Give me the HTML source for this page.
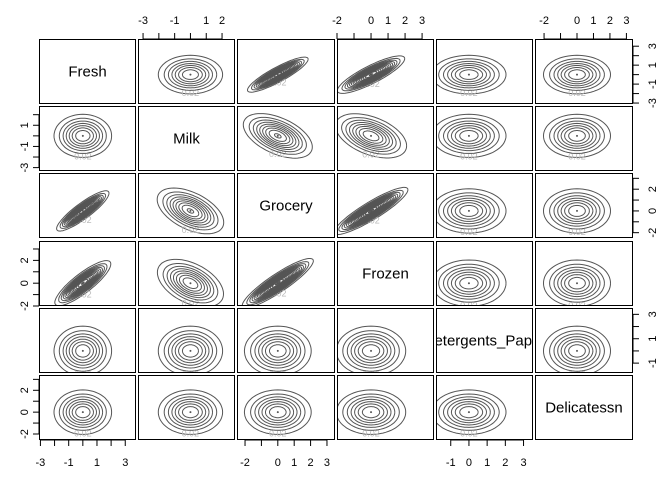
<!DOCTYPE html>
<html><head><meta charset="utf-8"><style>
body{margin:0;background:#fff}
svg{display:block;font-family:"Liberation Sans",Arial,sans-serif}
</style></head><body>
<svg id="c" width="672" height="480" viewBox="0 0 672 480"></svg>
<script>
const varNames=["Fresh","Milk","Grocery","Frozen","Detergents_Paper","Delicatessn"];
const rangeLo=[-3.1,-3.32,-2.49,-2,-1.81,-2.55];
const rangeHi=[3.76,2.82,3.49,3.7,3.52,3.4];
const ticks=[[-3,-2,-1,0,1,2,3],[-3,-2,-1,0,1,2],[-2,-1,0,1,2,3],[-2,-1,0,1,2,3],[-1,0,1,2,3],[-2,-1,0,1,2,3]];
const colLabels=[[-3,-1,1,3],[-3,-1,1,2],[-2,0,1,2,3],[-2,0,1,2,3],[-1,0,1,2,3],[-2,0,1,2,3]];
const rowLabels=[[-3,-1,1,3],[-3,-1,1],[-2,0,2],[-2,0,2],[-1,1,3],[-2,0,2]];
const rho=[
[1,0,0.88,0.85,0,0],
[0,1,-0.5,-0.45,0,0],
[0.88,-0.5,1,0.9,0,0],
[0.85,-0.45,0.9,1,0,0],
[0,0,0,0,1,0],
[0,0,0,0,0,1]];
const pairScale=[
[1,1,0.78,0.85,1,1],
[1,1,1,1,1,1],
[0.78,1,1,0.9,1,1],
[0.85,1,0.9,1,1,1],
[1,1,1,1,1,1],
[1,1,1,1,1,1]];
const levelStep=0.02;
const colX=[39,138,237,337,436,535], colW=[97,97,98,97,97,98];
const rowY=[39,106,173,241,308,375], rowH=65;
const svg=document.getElementById('c');const NS='http://www.w3.org/2000/svg';
function mk(t,a,p){const e=document.createElementNS(NS,t);for(const k in a)e.setAttribute(k,a[k]);(p||svg).appendChild(e);return e;}
function xs(j,v){return colX[j]+(v-rangeLo[j])/(rangeHi[j]-rangeLo[j])*colW[j];}
function ys(i,v){return rowY[i]+rowH-(v-rangeLo[i])/(rangeHi[i]-rangeLo[i])*rowH;}
const defs=mk('defs',{});
for(let i=0;i<6;i++)for(let j=0;j<6;j++){
  const cp=mk('clipPath',{id:'cp'+i+'_'+j},defs);
  mk('rect',{x:colX[j],y:rowY[i],width:colW[j],height:rowH},cp);
}
for(let i=0;i<6;i++)for(let j=0;j<6;j++){
  const g=mk('g',{'clip-path':'url(#cp'+i+'_'+j+')'});
  
  
  if(i===j){
    const t=mk('text',{x:colX[j]+colW[j]/2,y:rowY[i]+rowH/2+5,'text-anchor':'middle','font-size':15,fill:'#000'},g);
    t.textContent=varNames[i];
    
    
  } else {
    const r=rho[i][j], s=Math.sqrt(1-r*r), sc=pairScale[i][j];
    const peak=1/(2*Math.PI*s);
    let n=0;
    for(let L=levelStep;L<peak;L+=levelStep){
      const r2=-2*Math.log(L/peak);const rad=Math.sqrt(r2)*sc;
      let d='';
      for(let k=0;k<=72;k++){const t=k/72*2*Math.PI;
        const xv=rad*Math.cos(t), yv=rad*(r*Math.cos(t)+s*Math.sin(t));
        d+=(k?'L':'M')+xs(j,xv).toFixed(1)+','+ys(i,yv).toFixed(1);}
      const p=mk('path',{d:d,fill:'none',stroke:'#555','stroke-width':1},g);
      
      
      if(n===0){
        const lb=mk('text',{x:xs(j,0),y:ys(i,-rad*s*0.95)+3,'text-anchor':'middle','font-size':9,fill:'#bbb'},g);
        lb.textContent='0.02';
        
        
      }
      n++;
    }
    const dot=mk('circle',{cx:xs(j,0),cy:ys(i,0),r:1,fill:'#555'},g);
    
    
  }
  const b=mk('rect',{x:colX[j]+0.5,y:rowY[i]+0.5,width:colW[j]-1,height:rowH-1,fill:'none',stroke:'#000','stroke-width':1});
  
  
}
for(let j=0;j<6;j++){
  const top=(j%2===1), y0=top?39:440, dir=top?-1:1;
  const g=mk('g',{stroke:'#000','stroke-width':1});
  
  
  const tk=ticks[j];
  mk('line',{x1:xs(j,tk[0]),x2:xs(j,tk[tk.length-1]),y1:y0,y2:y0},g);
  tk.forEach(v=>mk('line',{x1:xs(j,v),x2:xs(j,v),y1:y0,y2:y0+dir*6},g));
  colLabels[j].forEach(v=>{const t=mk('text',{x:xs(j,v),y:top?24:466,'text-anchor':'middle','font-size':11,fill:'#000',stroke:'none'},g);t.textContent=v;
    });
}
for(let i=0;i<6;i++){
  const right=(i%2===0), x0=right?633:39, dir=right?1:-1;
  const g=mk('g',{stroke:'#000','stroke-width':1});
  
  
  const tk=ticks[i];
  mk('line',{y1:ys(i,tk[0]),y2:ys(i,tk[tk.length-1]),x1:x0,x2:x0},g);
  tk.forEach(v=>mk('line',{y1:ys(i,v),y2:ys(i,v),x1:x0,x2:x0+dir*6},g));
  rowLabels[i].forEach(v=>{const tx=right?652:24,ty=ys(i,v);
    const t=mk('text',{x:tx,y:ty,'text-anchor':'middle','font-size':11,fill:'#000',stroke:'none',transform:'rotate(-90 '+tx+' '+ty+')',dy:'0.35em'},g);t.textContent=v;
    });
}
</script>
</body></html>
